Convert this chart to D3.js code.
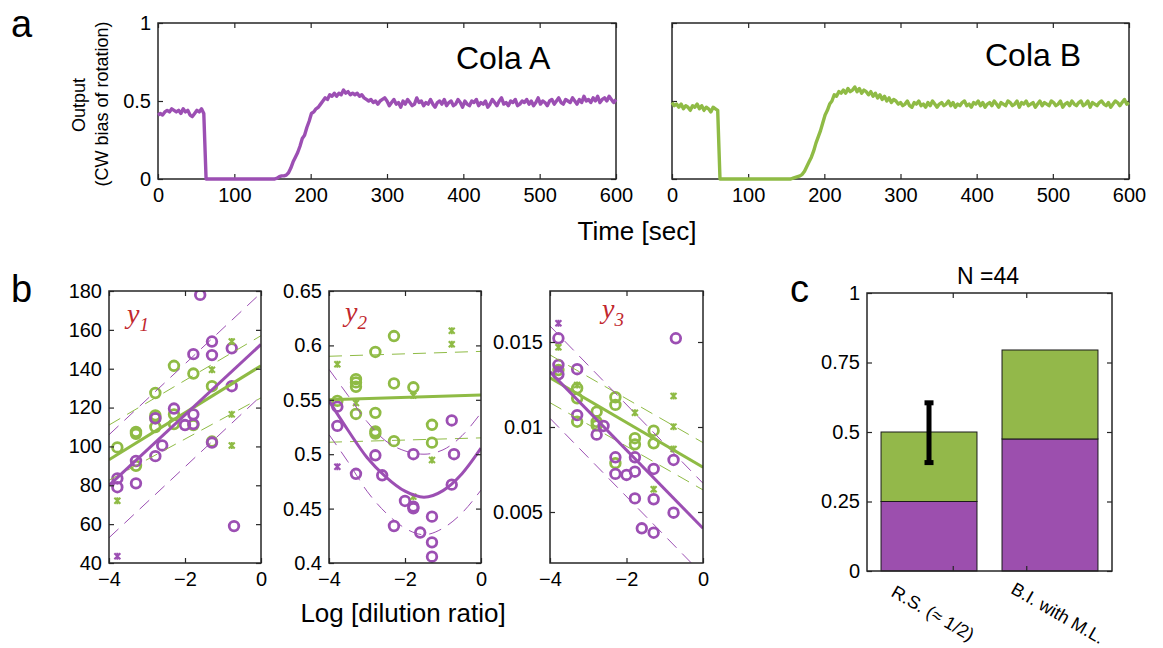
<!DOCTYPE html>
<html>
<head>
<meta charset="utf-8">
<script src="https://cdn.jsdelivr.net/npm/d3@7"></script>
<style>
  body { margin: 0; background: #fff; }
  svg { display: block; }
</style>
</head>
<body>
<svg id="fig"></svg>
<script>
// data
////////////////////////////////////////////////////////////////
const timeStep = 3; // sec between samples of the traces
const colaA = [
  0.41,0.42,0.41,0.43,0.44,0.43,0.45,0.44,0.43,0.44,0.42,0.45,0.43,0.44,0.41,0.40,0.42,0.44,0.43,0.45,
  0.42,
  0,0,0,0,0,0,0,0,0,0,0,0,0,0,0,0,0,0,0,0,0,0,0,0,0,0,0,0,0,0,
  0.00,0.005,0.015,0.02,0.02,0.025,0.04,0.07,0.11,0.14,
  0.17,0.21,0.26,0.28,0.33,0.37,0.42,0.43,0.45,0.46,
  0.48,0.50,0.52,0.51,0.54,0.53,0.55,0.53,0.55,0.54,
  0.57,0.55,0.56,0.54,0.55,0.54,0.55,0.53,0.54,0.52,
  0.51,0.50,0.51,0.49,0.50,0.48,0.50,0.51,0.52,
  0.50,0.47,0.49,0.51,0.48,0.49,0.46,0.50,0.48,0.51,0.49,0.47,0.48,0.52,0.49,0.50,0.47,0.49,0.48,0.51,
  0.48,0.46,0.49,0.50,0.48,0.51,0.47,0.49,0.50,0.47,0.48,0.51,0.49,0.46,0.50,0.48,0.47,0.50,0.49,0.51,
  0.47,0.49,0.48,0.50,0.46,0.48,0.51,0.49,0.47,0.50,0.52,0.48,0.49,0.47,0.50,0.49,0.51,0.47,0.48,0.50,
  0.49,0.51,0.48,0.50,0.47,0.49,0.52,0.48,0.50,0.49,0.47,0.50,0.51,0.48,0.50,0.52,0.49,0.48,0.51,0.50,
  0.49,0.52,0.50,0.48,0.51,0.49,0.53,0.50,0.51,0.49,0.52,0.50,0.53,0.49,0.51,0.52,0.50,0.53,0.51,0.49,
  0.51
];
const colaB = [
  0.49,0.47,0.48,0.46,0.48,0.45,0.47,0.46,0.44,0.47,0.46,0.48,0.45,0.47,0.44,0.46,0.45,0.43,0.46,0.45,
  0.44,
  0,0,0,0,0,0,0,0,0,0,0,0,0,0,0,0,0,0,0,0,0,0,0,0,0,0,0,0,0,0,
  0.00,0.00,0.005,0.01,0.015,0.02,0.03,0.05,0.08,0.11,
  0.14,0.18,0.23,0.27,0.31,0.36,0.41,0.44,0.48,0.50,
  0.54,0.53,0.56,0.55,0.57,0.55,0.58,0.56,0.57,0.59,
  0.56,0.58,0.55,0.57,0.56,0.54,0.56,0.53,0.55,0.52,
  0.54,0.51,0.53,0.50,0.52,0.49,0.51,0.50,0.48,
  0.49,0.47,0.48,0.50,0.47,0.46,0.49,0.48,0.50,0.47,0.48,0.46,0.49,0.47,0.50,0.48,0.46,0.48,0.49,0.47,
  0.48,0.50,0.47,0.49,0.46,0.48,0.47,0.49,0.50,0.47,0.48,0.46,0.49,0.48,0.50,0.47,0.49,0.46,0.48,0.49,
  0.47,0.50,0.48,0.46,0.49,0.48,0.47,0.50,0.49,0.47,0.48,0.50,0.46,0.49,0.48,0.50,0.47,0.48,0.49,0.46,
  0.48,0.50,0.47,0.49,0.48,0.47,0.50,0.49,0.47,0.48,0.50,0.46,0.48,0.49,0.47,0.50,0.48,0.47,0.49,0.50,
  0.47,0.48,0.50,0.46,0.49,0.48,0.47,0.49,0.50,0.48,0.47,0.49,0.46,0.48,0.50,0.49,0.47,0.49,0.51,0.48,
  0.49
];
const timeTicks = [0, 100, 200, 300, 400, 500, 600];
const outputTicks = [0, 0.5, 1];

// panel b : [log dilution, value]
const logTicks = [-4, -2, 0];
const y1Ticks = [40, 60, 80, 100, 120, 140, 160, 180];
const y2Ticks = [0.4, 0.45, 0.5, 0.55, 0.6, 0.65];
const y3Ticks = [0.005, 0.01, 0.015];

const y1PurpleCircles = [[-1.6,178],[-1.29,154],[-1.29,147],[-1.78,147.5],[-0.77,150.5],[-0.77,131],[-2.29,119.5],
  [-1.78,116.5],[-2.0,111],[-1.78,111.5],[-2.78,114.5],[-2.6,100.5],[-2.78,95],[-3.29,92.5],[-3.29,81],
  [-3.78,83.5],[-3.78,79],[-1.29,102],[-0.71,59]];
const y1GreenCircles = [[-2.29,141.5],[-1.78,137.5],[-1.29,131],[-2.78,127.5],[-2.78,116],[-2.78,114.5],[-2.78,110],
  [-2.29,116.5],[-2.29,111.5],[-3.29,107.5],[-3.29,106.5],[-3.78,99.5],[-3.29,90],[-1.29,102.5],[-1.78,111]];
const y1GreenCrosses = [[-0.77,154],[-1.29,139.5],[-0.77,116.5],[-0.77,100.5],[-3.78,72]];
const y1PurpleCrosses = [[-3.78,43.5]];
const y1PurpleFit = [[-4,80],[0,152.5]];
const y1GreenFit = [[-4,93.2],[0,141.5]];
const y1PurpleBand = [[[-4,106],[0,179]], [[-4,53],[0,126]]];
const y1GreenBand = [[[-4,111],[0,157]], [[-4,82.6],[0,125]]];

const y2PurpleCircles = [[-3.78,0.5437],[-3.78,0.526],[-0.77,0.531],[-2.78,0.499],[-1.78,0.5],[-0.71,0.5],[-3.29,0.482],
  [-2.6,0.4806],[-0.77,0.472],[-2.0,0.457],[-1.78,0.4518],[-1.78,0.4503],[-1.29,0.4426],[-2.29,0.434],
  [-1.6,0.428],[-1.29,0.419],[-1.29,0.4058]];
const y2GreenCircles = [[-2.29,0.6086],[-2.78,0.594],[-3.29,0.569],[-3.29,0.566],[-3.29,0.562],[-2.29,0.565],
  [-1.78,0.5615],[-3.78,0.549],[-3.29,0.537],[-2.78,0.538],[-2.78,0.521],[-2.78,0.519],[-1.29,0.527],
  [-2.29,0.512],[-1.29,0.5106]];
const y2GreenCrosses = [[-0.77,0.6135],[-0.77,0.601],[-3.78,0.5826],[-3.29,0.547],[-1.78,0.554],[-1.29,0.4947],[-1.78,0.461]];
const y2PurpleCrosses = [[-3.78,0.4885]];
const y2PurpleFit = [[-4,0.549],[-3.5,0.522],[-3,0.497],[-2.5,0.479],[-2,0.466],[-1.5,0.4605],[-1,0.4665],[-0.5,0.482],[0,0.5055]];
const y2GreenFit = [[-4,0.55],[0,0.5545]];
const y2PurpleBand = [
  [[-4,0.578],[-3.5,0.554],[-3,0.53],[-2.5,0.512],[-2,0.503],[-1.5,0.5],[-1,0.504],[-0.5,0.517],[0,0.538]],
  [[-4,0.518],[-3.5,0.493],[-3,0.466],[-2.5,0.446],[-2,0.432],[-1.5,0.426],[-1,0.432],[-0.5,0.446],[0,0.467]]
];
const y2GreenBand = [[[-4,0.59],[0,0.5945]], [[-4,0.511],[0,0.515]]];

const y3PurpleCircles = [[-3.78,0.01522],[-0.71,0.01522],[-3.78,0.01365],[-3.78,0.0131],[-3.29,0.0134],[-3.29,0.0107],
  [-2.78,0.00955],[-2.6,0.01006],[-2.29,0.00822],[-2.29,0.00724],[-2.0,0.00718],[-1.78,0.00822],[-1.78,0.00737],
  [-1.78,0.0058],[-1.29,0.00753],[-1.29,0.00575],[-0.77,0.00806],[-0.77,0.00496],[-1.6,0.00404],[-1.29,0.00378]];
const y3GreenCircles = [[-3.78,0.01335],[-3.29,0.01228],[-3.29,0.01169],[-3.29,0.01031],[-2.78,0.0109],[-2.78,0.0103],
  [-2.78,0.0101],[-2.29,0.01175],[-2.29,0.0113],[-2.29,0.00787],[-1.78,0.00934],[-1.78,0.00898],[-1.29,0.00978],[-1.29,0.00904]];
const y3GreenCrosses = [[-3.78,0.01469],[-3.29,0.01247],[-1.78,0.01084],[-0.77,0.01182],[-0.77,0.01002],[-0.77,0.00871],[-1.29,0.00634]];
const y3PurpleCrosses = [[-3.78,0.0161],[-3.78,0.0134]];
const y3PurpleFit = [[-4,0.01325],[0,0.00404]];
const y3GreenFit = [[-4,0.0129],[0,0.00763]];
const y3PurpleBand = [[[-4,0.01594],[0,0.00669]], [[-4,0.01051],[0,0.0013]]];
const y3GreenBand = [[[-4,0.01424],[0,0.00908]], [[-4,0.01143],[0,0.0063]]];

// panel c
const strategies = ['R.S. (\u2248 1/2)', 'B.I. with M.L.'];
const purpleShare = [0.25, 0.475];
const greenShare = [0.25, 0.32];
const errLow = [0.39, null];
const errHigh = [0.605, null];
const shareTicks = [0, 0.25, 0.5, 0.75, 1];

// style
////////////////////////////////////////////////////////////////
const PURPLE = '#9c4fb3';
const GREEN = '#8fbb45';
const BAR_PURPLE = '#9c4fae';
const BAR_GREEN = '#93b84a';
const AXIS = '#262626';
const FONT = "'Liberation Sans', Arial, Helvetica, sans-serif";

const svg = d3.select('#fig').attr('width', 1163).attr('height', 648)
  .style('font-family', FONT);

const num = d => d < 0 ? '\u2212' + Math.abs(d) : String(d);

// box with inward ticks on four sides
let frame = (g, x, y, xt, yt, opt) => {
  const [x0, x1] = x.range();
  const [yb, yt0] = y.range();
  const fs = opt.fontSize || 20;
  const bottom = g.append('g').attr('transform', `translate(0,${yb})`)
    .call(d3.axisBottom(x).tickValues(xt).tickSize(-5).tickSizeOuter(0).tickPadding(9)
      .tickFormat(opt.xLabels === false ? '' : (opt.xFmt || num)));
  g.append('g').attr('transform', `translate(0,${yt0})`)
    .call(d3.axisTop(x).tickValues(xt).tickSize(-5).tickSizeOuter(0).tickFormat(''));
  const left = g.append('g').attr('transform', `translate(${x0},0)`)
    .call(d3.axisLeft(y).tickValues(yt).tickSize(-5).tickSizeOuter(0).tickPadding(7)
      .tickFormat(opt.yLabels === false ? '' : num));
  g.append('g').attr('transform', `translate(${x1},0)`)
    .call(d3.axisRight(y).tickValues(yt).tickSize(-5).tickSizeOuter(0).tickFormat(''));
  g.selectAll('.domain').remove();
  g.selectAll('.tick line').attr('stroke', AXIS).attr('stroke-width', 1.2);
  [bottom, left].forEach(a => a.attr('font-size', fs).attr('font-family', FONT)
    .selectAll('text').attr('fill', '#000'));
  g.append('rect').attr('x', x0).attr('y', yt0).attr('width', x1 - x0).attr('height', yb - yt0)
    .attr('fill', 'none').attr('stroke', AXIS).attr('stroke-width', 1.5);
};

// panel a
////////////////////////////////////////////////////////////////
const yA = d3.scaleLinear([0, 1], [179, 23]);
const traces = [
  { data: colaA, name: 'Cola A', color: PURPLE, x: d3.scaleLinear([0, 600], [158, 616]), nameX: 456, nameY: 69, yLabels: true },
  { data: colaB, name: 'Cola B', color: GREEN, x: d3.scaleLinear([0, 600], [672, 1129]), nameX: 985, nameY: 66, yLabels: false }
];
traces.forEach(t => {
  const g = svg.append('g');
  frame(g, t.x, yA, timeTicks, outputTicks, { yLabels: t.yLabels });
  g.append('path').datum(t.data)
    .attr('d', d3.line().x((d, i) => t.x(i * timeStep)).y(d => yA(d)))
    .attr('fill', 'none').attr('stroke', t.color).attr('stroke-width', 3.4)
    .attr('stroke-linejoin', 'round');
  g.append('text').attr('x', t.nameX).attr('y', t.nameY).attr('font-size', 32).text(t.name);
});
svg.append('text').attr('transform', 'translate(85,105) rotate(-90)').attr('text-anchor', 'middle')
  .attr('font-size', 18).text('Output');
svg.append('text').attr('transform', 'translate(108,104) rotate(-90)').attr('text-anchor', 'middle')
  .attr('font-size', 18).text('(CW bias of rotation)');
svg.append('text').attr('x', 637).attr('y', 240).attr('text-anchor', 'middle')
  .attr('font-size', 26).text('Time [sec]');

// panel b
////////////////////////////////////////////////////////////////
const scatterPanels = [
  { id: 1, x0: 109, x1: 261, dom: [40, 180], ticks: y1Ticks, lab: [127, 323],
    pc: y1PurpleCircles, gc: y1GreenCircles, px: y1PurpleCrosses, gx: y1GreenCrosses,
    pf: y1PurpleFit, gf: y1GreenFit, pb: y1PurpleBand, gb: y1GreenBand },
  { id: 2, x0: 329, x1: 481, dom: [0.4, 0.65], ticks: y2Ticks, lab: [345, 321],
    pc: y2PurpleCircles, gc: y2GreenCircles, px: y2PurpleCrosses, gx: y2GreenCrosses,
    pf: y2PurpleFit, gf: y2GreenFit, pb: y2PurpleBand, gb: y2GreenBand },
  { id: 3, x0: 550, x1: 703, dom: [0.002, 0.018], ticks: y3Ticks, lab: [602, 318],
    pc: y3PurpleCircles, gc: y3GreenCircles, px: y3PurpleCrosses, gx: y3GreenCrosses,
    pf: y3PurpleFit, gf: y3GreenFit, pb: y3PurpleBand, gb: y3GreenBand }
];
scatterPanels.forEach(p => {
  const x = d3.scaleLinear([-4, 0], [p.x0, p.x1]);
  const y = d3.scaleLinear(p.dom, [563, 291]);
  const g = svg.append('g');
  g.append('clipPath').attr('id', 'clip' + p.id).append('rect')
    .attr('x', p.x0).attr('y', 291).attr('width', p.x1 - p.x0).attr('height', 272);
  const plot = g.append('g').attr('clip-path', `url(#clip${p.id})`);
  const line = d3.line().x(d => x(d[0])).y(d => y(d[1])).curve(d3.curveMonotoneX);

  const circles = (data, color) => plot.append('g').selectAll('circle').data(data).enter()
    .append('circle').attr('cx', d => x(d[0])).attr('cy', d => y(d[1])).attr('r', 4.8)
    .attr('fill', 'none').attr('stroke', color).attr('stroke-width', 2.8);
  const crosses = (data, color) => plot.append('g').selectAll('path').data(data).enter()
    .append('path').attr('transform', d => `translate(${x(d[0])},${y(d[1])})`)
    .attr('d', 'M-3,-3L3,3M-3,3L3,-3M0,-3.5L0,3.5').attr('stroke', color).attr('stroke-width', 2);
  circles(p.gc, GREEN);
  circles(p.pc, PURPLE);
  crosses(p.gx, GREEN);
  crosses(p.px, PURPLE);

  [[p.gb, GREEN], [p.pb, PURPLE]].forEach(([band, color]) => band.forEach(b => {
    plot.append('path').attr('d', line(b)).attr('fill', 'none').attr('stroke', color)
      .attr('stroke-width', 1).attr('stroke-dasharray', '13,8');
  }));
  [[p.gf, GREEN], [p.pf, PURPLE]].forEach(([f, color]) => {
    plot.append('path').attr('d', line(f)).attr('fill', 'none').attr('stroke', color)
      .attr('stroke-width', 3);
  });

  frame(g, x, y, logTicks, p.ticks, {});
  const lab = g.append('text').attr('x', p.lab[0]).attr('y', p.lab[1])
    .attr('font-family', "'Liberation Serif', 'Times New Roman', serif").attr('font-style', 'italic')
    .attr('fill', '#c1272d').attr('font-size', 28);
  lab.append('tspan').text('y');
  lab.append('tspan').attr('dy', 8).attr('font-size', 19).text(p.id);
});
svg.append('text').attr('x', 403).attr('y', 622).attr('text-anchor', 'middle')
  .attr('font-size', 26).text('Log [dilution ratio]');

// panel c
////////////////////////////////////////////////////////////////
const xC = d3.scaleBand(strategies, [867, 1112]).paddingInner(0.207).paddingOuter(0.116);
const yC = d3.scaleLinear([0, 1], [571, 293]);
const gC = svg.append('g');
const bars = strategies.map((s, i) => ({ s, p: purpleShare[i], g: greenShare[i], lo: errLow[i], hi: errHigh[i] }));
gC.selectAll('rect.p').data(bars).enter().append('rect').attr('class', 'p')
  .attr('x', d => xC(d.s)).attr('width', xC.bandwidth())
  .attr('y', d => yC(d.p)).attr('height', d => yC(0) - yC(d.p))
  .attr('fill', BAR_PURPLE).attr('stroke', '#1a1a1a').attr('stroke-width', 1);
gC.selectAll('rect.g').data(bars).enter().append('rect').attr('class', 'g')
  .attr('x', d => xC(d.s)).attr('width', xC.bandwidth())
  .attr('y', d => yC(d.p + d.g)).attr('height', d => yC(d.p) - yC(d.p + d.g))
  .attr('fill', BAR_GREEN).attr('stroke', '#1a1a1a').attr('stroke-width', 1);
const errs = gC.selectAll('g.err').data(bars.filter(d => d.lo != null)).enter().append('g').attr('class', 'err');
errs.append('line').attr('x1', d => xC(d.s) + xC.bandwidth() / 2).attr('x2', d => xC(d.s) + xC.bandwidth() / 2)
  .attr('y1', d => yC(d.lo)).attr('y2', d => yC(d.hi)).attr('stroke', '#000').attr('stroke-width', 5);
['lo', 'hi'].forEach(k => errs.append('rect')
  .attr('x', d => xC(d.s) + xC.bandwidth() / 2 - 4.5).attr('y', d => yC(d[k]) - 2.5)
  .attr('width', 9).attr('height', 5).attr('fill', '#000'));

// tick marks of the category axis sit off the bar centres in the original
const xCt = d3.scaleLinear([0, 1], [867, 1112]);
frame(gC, xCt, yC, [0.35, 0.65], shareTicks, { xLabels: false });
gC.selectAll('text.cat').data(bars).enter().append('text').attr('class', 'cat')
  .attr('transform', (d, i) => `translate(${xC(d.s) + xC.bandwidth() / 2 + 4 + i * 4},613) rotate(30)`)
  .attr('text-anchor', 'middle').attr('dy', '0.35em').attr('font-size', 18).text(d => d.s);
svg.append('text').attr('x', 988).attr('y', 284).attr('text-anchor', 'middle')
  .attr('font-size', 23).text('N =44');

// panel letters
svg.append('text').attr('x', 11).attr('y', 37).attr('font-size', 38).text('a');
svg.append('text').attr('x', 11).attr('y', 302).attr('font-size', 38).text('b');
svg.append('text').attr('x', 790).attr('y', 302).attr('font-size', 38).text('c');
</script>
</body>
</html>
